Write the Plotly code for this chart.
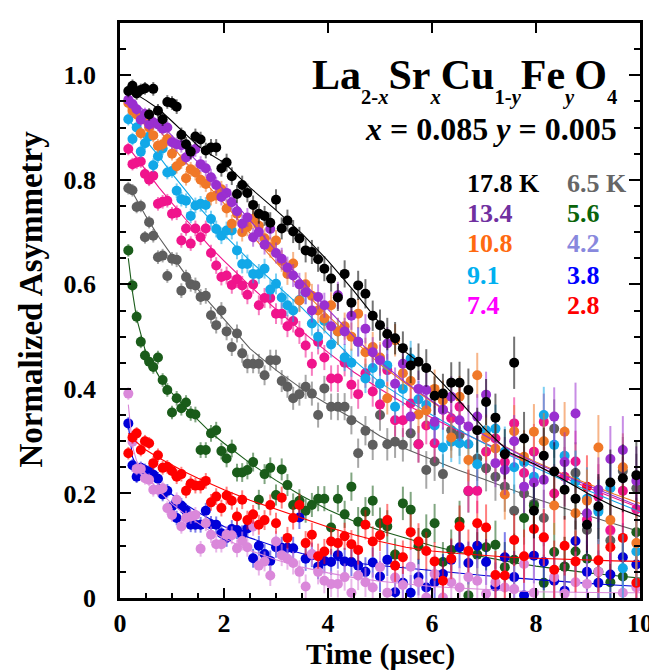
import plotly.graph_objects as go

# ---------------- data ----------------
time_us = [0.16, 0.24, 0.32, 0.40, 0.48, 0.56, 0.64, 0.73, 0.82, 0.91,
           1.00, 1.09, 1.18, 1.27, 1.36, 1.45, 1.55, 1.65, 1.75, 1.85,
           1.95, 2.05, 2.15, 2.25, 2.35, 2.45, 2.56, 2.67, 2.78, 2.89,
           3.00, 3.11, 3.22, 3.33, 3.45, 3.57, 3.69, 3.81, 3.93, 4.06,
           4.19, 4.32, 4.45, 4.58, 4.72, 4.86, 5.00, 5.14, 5.29, 5.44,
           5.59, 5.74, 5.89, 6.05, 6.21, 6.37, 6.53, 6.70, 6.87, 7.04,
           7.22, 7.40, 7.58, 7.77, 7.96, 8.15, 8.35, 8.55, 8.76, 8.98,
           9.20, 9.43, 9.67, 9.93]

err = [0.012, 0.012, 0.012, 0.012, 0.012, 0.012, 0.013, 0.013, 0.013, 0.013,
       0.013, 0.014, 0.014, 0.014, 0.014, 0.015, 0.015, 0.015, 0.016, 0.016,
       0.016, 0.017, 0.017, 0.017, 0.018, 0.018, 0.018, 0.019, 0.019, 0.020,
       0.020, 0.021, 0.021, 0.022, 0.022, 0.023, 0.023, 0.024, 0.024, 0.025,
       0.026, 0.026, 0.027, 0.028, 0.028, 0.029, 0.030, 0.031, 0.031, 0.032,
       0.034, 0.035, 0.036, 0.037, 0.038, 0.039, 0.040, 0.041, 0.043, 0.044,
       0.046, 0.048, 0.050, 0.051, 0.053, 0.054, 0.056, 0.057, 0.059, 0.060,
       0.062, 0.063, 0.065, 0.066]

a_17_8K = [0.970, 0.980, 0.965, 0.972, 0.975, 0.925, 0.974, 0.932, 0.916, 0.949,
           0.947, 0.940, 0.886, 0.868, 0.854, 0.883, 0.877, 0.856, 0.862, 0.862,
           0.822, 0.833, 0.807, 0.773, 0.790, 0.775, 0.752, 0.735, 0.731, 0.718,
           0.762, 0.707, 0.722, 0.701, 0.688, 0.665, 0.662, 0.648, 0.630, 0.611,
           0.575, 0.620, 0.565, 0.598, 0.582, 0.540, 0.522, 0.505, 0.497, 0.478,
           0.445, 0.452, 0.440, 0.387, 0.391, 0.412, 0.412, 0.398, 0.321, 0.375,
           0.345, 0.275, 0.450, 0.305, 0.167, 0.272, 0.242, 0.207, 0.190, 0.140,
           0.175, 0.221, 0.229, 0.235]

a_13_4K = [0.953, 0.945, 0.935, 0.915, 0.926, 0.906, 0.910, 0.906, 0.898, 0.900,
           0.872, 0.868, 0.866, 0.843, 0.852, 0.859, 0.830, 0.822, 0.805, 0.790,
           0.767, 0.775, 0.757, 0.740, 0.716, 0.728, 0.690, 0.700, 0.676, 0.706,
           0.660, 0.649, 0.632, 0.617, 0.600, 0.585, 0.550, 0.576, 0.560, 0.520,
           0.579, 0.510, 0.540, 0.490, 0.515, 0.470, 0.455, 0.487, 0.410, 0.448,
           0.347, 0.400, 0.398, 0.337, 0.360, 0.385, 0.340, 0.328, 0.347, 0.389,
           0.258, 0.245, 0.300, 0.213, 0.221, 0.226, 0.347, 0.260, 0.353, 0.162,
           0.207, 0.266, 0.283, 0.224]

a_10_8K = [0.947, 0.932, 0.925, 0.889, 0.915, 0.900, 0.885, 0.865, 0.868, 0.878,
           0.850, 0.826, 0.835, 0.803, 0.820, 0.814, 0.800, 0.792, 0.767, 0.770,
           0.782, 0.745, 0.716, 0.735, 0.700, 0.710, 0.725, 0.712, 0.688, 0.671,
           0.684, 0.645, 0.620, 0.640, 0.569, 0.600, 0.578, 0.550, 0.535, 0.560,
           0.510, 0.520, 0.500, 0.544, 0.470, 0.480, 0.460, 0.382, 0.493, 0.430,
           0.415, 0.351, 0.359, 0.400, 0.378, 0.307, 0.385, 0.264, 0.426, 0.307,
           0.286, 0.198, 0.319, 0.270, 0.318, 0.300, 0.177, 0.318, 0.162, 0.186,
           0.288, 0.149, 0.250, 0.105]

a_9_1K = [0.916, 0.878, 0.900, 0.854, 0.870, 0.883, 0.828, 0.845, 0.860, 0.814,
          0.817, 0.779, 0.763, 0.760, 0.731, 0.751, 0.754, 0.752, 0.725, 0.706,
          0.693, 0.703, 0.703, 0.665, 0.639, 0.639, 0.620, 0.620, 0.630, 0.590,
          0.601, 0.575, 0.560, 0.550, 0.570, 0.585, 0.525, 0.500, 0.530, 0.485,
          0.510, 0.460, 0.450, 0.490, 0.420, 0.440, 0.410, 0.445, 0.366, 0.400,
          0.458, 0.380, 0.369, 0.330, 0.288, 0.299, 0.296, 0.294, 0.256, 0.321,
          0.324, 0.280, 0.250, 0.260, 0.232, 0.350, 0.293, 0.272, 0.223, 0.190,
          0.165, 0.210, 0.057, 0.089]

a_7_4K = [0.859, 0.830, 0.833, 0.835, 0.811, 0.800, 0.808, 0.754, 0.758, 0.760,
          0.735, 0.737, 0.684, 0.707, 0.678, 0.707, 0.690, 0.707, 0.660, 0.636,
          0.614, 0.617, 0.599, 0.610, 0.598, 0.580, 0.600, 0.560, 0.574, 0.574,
          0.544, 0.544, 0.520, 0.530, 0.508, 0.483, 0.448, 0.490, 0.460, 0.420,
          0.420, 0.450, 0.408, 0.390, 0.430, 0.395, 0.370, 0.436, 0.340, 0.340,
          0.372, 0.294, 0.330, 0.296, 0.360, 0.344, 0.366, 0.205, 0.205, 0.280,
          0.305, 0.260, 0.334, 0.239, 0.280, 0.337, 0.200, 0.232, 0.261, 0.150,
          0.194, 0.130, 0.205, 0.170]

a_6_5K = [0.784, 0.780, 0.748, 0.750, 0.690, 0.719, 0.693, 0.652, 0.655, 0.616,
          0.649, 0.647, 0.588, 0.614, 0.600, 0.598, 0.576, 0.578, 0.541, 0.522,
          0.550, 0.510, 0.480, 0.506, 0.468, 0.448, 0.448, 0.448, 0.426, 0.455,
          0.455, 0.415, 0.404, 0.382, 0.390, 0.404, 0.391, 0.350, 0.401, 0.366,
          0.366, 0.366, 0.340, 0.277, 0.320, 0.293, 0.350, 0.294, 0.299, 0.293,
          0.315, 0.294, 0.245, 0.261, 0.237, 0.321, 0.312, 0.204, 0.267, 0.248,
          0.232, 0.213, 0.167, 0.200, 0.180, 0.153, 0.324, 0.060, 0.239, 0.130,
          0.170, 0.110, 0.243, 0.210]

a_5_6K = [0.665, 0.598, 0.538, 0.490, 0.464, 0.452, 0.442, 0.460, 0.417, 0.398,
          0.355, 0.382, 0.363, 0.374, 0.353, 0.351, 0.283, 0.283, 0.315, 0.321,
          0.281, 0.267, 0.286, 0.240, 0.240, 0.245, 0.260, 0.188, 0.237, 0.249,
          0.197, 0.246, 0.216, 0.178, 0.186, 0.167, 0.178, 0.190, 0.190, 0.135,
          0.190, 0.160, 0.213, 0.146, 0.165, 0.186, 0.143, 0.137, 0.083, 0.181,
          0.169, 0.099, 0.124, 0.143, 0.069, 0.092, 0.146, 0.005, 0.083, 0.097,
          0.102, 0.059, 0.073, 0.153, 0.177, 0.029, 0.088, 0.060, 0.089, 0.075,
          0.050, 0.030, 0.041, 0.126]

a_4_2K = [0.391, 0.299, 0.247, 0.247, 0.229, 0.226, 0.207, 0.207, 0.210, 0.172,
          0.159, 0.188, 0.137, 0.153, 0.156, 0.159, 0.094, 0.143, 0.121, 0.103,
          0.103, 0.121, 0.120, 0.095, 0.109, 0.097, 0.137, 0.062, 0.070, 0.043,
          0.108, 0.082, 0.075, 0.067, 0.050, 0.022, 0.084, 0.050, 0.033, 0.027,
          0.027, 0.040, 0.010, 0.043, 0.030, 0.020, 0.059, 0.010, 0.039, 0.025,
          0.060, 0.030, 0.001, 0.046, 0.001, 0.030, 0.020, 0.040, 0.033, 0.008,
          0.030, 0.020, 0.017, 0.065, 0.010, 0.115, 0.040, 0.008, 0.030, 0.027,
          0.050, 0.128, 0.010, 0.020]

a_3_8K = [0.334, 0.254, 0.232, 0.249, 0.245, 0.242, 0.236, 0.228, 0.198, 0.205,
          0.175, 0.153, 0.177, 0.167, 0.140, 0.140, 0.140, 0.167, 0.141, 0.140,
          0.124, 0.115, 0.132, 0.130, 0.121, 0.133, 0.076, 0.100, 0.084, 0.071,
          0.097, 0.096, 0.096, 0.095, 0.154, 0.075, 0.082, 0.060, 0.071, 0.069,
          0.082, 0.070, 0.069, 0.062, 0.050, 0.068, 0.041, 0.073, 0.011, 0.029,
          0.010, 0.040, 0.020, 0.030, 0.046, 0.073, 0.097, 0.067, 0.100, 0.069,
          0.022, 0.078, 0.040, 0.005, 0.081, 0.069, 0.033, 0.014, 0.109, 0.050,
          0.029, 0.045, 0.078, 0.064]

a_2_8K = [0.277, 0.307, 0.315, 0.283, 0.300, 0.296, 0.258, 0.273, 0.249, 0.251,
          0.243, 0.232, 0.237, 0.205, 0.219, 0.215, 0.215, 0.224, 0.183, 0.194,
          0.172, 0.196, 0.186, 0.156, 0.188, 0.149, 0.160, 0.140, 0.149, 0.178,
          0.143, 0.192, 0.115, 0.153, 0.178, 0.105, 0.121, 0.080, 0.089, 0.108,
          0.105, 0.118, 0.103, 0.092, 0.140, 0.108, 0.120, 0.149, 0.062, 0.078,
          0.126, 0.108, 0.090, 0.070, 0.033, 0.075, 0.137, 0.090, 0.143, 0.135,
          0.044, 0.043, 0.111, 0.080, 0.132, 0.116, 0.054, 0.100, 0.070, 0.213,
          0.072, 0.097, 0.115, 0.029]

# fitted curves
fit_time = [0.16, 0.24, 0.32, 0.5, 0.75, 1.0, 1.25, 1.5, 1.75, 2.0, 2.5, 3.0, 3.5,
            4.0, 4.5, 5.0, 5.5, 6.0, 6.5, 7.0, 7.5, 8.0, 8.5, 9.0, 9.5, 10.0]
fit_17_8K = [0.972, 0.968, 0.963, 0.952, 0.935, 0.912, 0.888, 0.865, 0.848, 0.833, 0.785, 0.742, 0.697,
             0.645, 0.587, 0.525, 0.470, 0.432, 0.380, 0.325, 0.278, 0.255, 0.228, 0.200, 0.175, 0.156]
fit_13_4K = [0.957, 0.951, 0.944, 0.930, 0.910, 0.885, 0.860, 0.835, 0.808, 0.780, 0.722, 0.665, 0.607,
             0.552, 0.500, 0.452, 0.412, 0.377, 0.343, 0.312, 0.284, 0.258, 0.236, 0.215, 0.195, 0.175]
fit_10_8K = [0.952, 0.946, 0.939, 0.920, 0.895, 0.865, 0.835, 0.810, 0.783, 0.755, 0.698, 0.642, 0.590,
             0.540, 0.493, 0.447, 0.410, 0.375, 0.343, 0.312, 0.285, 0.260, 0.238, 0.218, 0.199, 0.181]
fit_9_1K = [0.915, 0.907, 0.897, 0.875, 0.845, 0.812, 0.780, 0.750, 0.722, 0.695, 0.645, 0.600, 0.555,
            0.505, 0.455, 0.412, 0.380, 0.350, 0.322, 0.296, 0.272, 0.249, 0.226, 0.205, 0.185, 0.165]
fit_7_4K = [0.862, 0.852, 0.842, 0.818, 0.785, 0.755, 0.726, 0.698, 0.670, 0.645, 0.597, 0.552, 0.510,
            0.470, 0.432, 0.400, 0.370, 0.345, 0.320, 0.297, 0.275, 0.253, 0.232, 0.211, 0.191, 0.172]
fit_6_5K = [0.790, 0.775, 0.762, 0.730, 0.690, 0.655, 0.620, 0.590, 0.562, 0.535, 0.477, 0.436, 0.400,
            0.370, 0.342, 0.310, 0.285, 0.265, 0.245, 0.227, 0.208, 0.190, 0.173, 0.157, 0.142, 0.127]
fit_5_6K = [0.650, 0.585, 0.535, 0.468, 0.424, 0.392, 0.365, 0.340, 0.316, 0.296, 0.258, 0.225, 0.195,
            0.169, 0.147, 0.129, 0.114, 0.100, 0.088, 0.078, 0.069, 0.061, 0.054, 0.048, 0.043, 0.038]
fit_4_2K = [0.370, 0.290, 0.262, 0.235, 0.205, 0.180, 0.160, 0.143, 0.127, 0.114, 0.091, 0.073, 0.059,
            0.048, 0.039, 0.032, 0.027, 0.022, 0.019, 0.016, 0.014, 0.012, 0.011, 0.010, 0.010, 0.010]
fit_3_8K = [0.330, 0.270, 0.252, 0.240, 0.218, 0.198, 0.180, 0.164, 0.150, 0.137, 0.115, 0.098, 0.085,
            0.075, 0.067, 0.062, 0.058, 0.053, 0.048, 0.043, 0.039, 0.035, 0.031, 0.028, 0.025, 0.022]
fit_2_8K = [0.315, 0.305, 0.298, 0.283, 0.268, 0.254, 0.241, 0.229, 0.218, 0.207, 0.187, 0.170, 0.152,
            0.136, 0.121, 0.108, 0.097, 0.090, 0.085, 0.081, 0.078, 0.076, 0.074, 0.072, 0.071, 0.070]

x_ticks = [0, 2, 4, 6, 8, 10]
y_ticks = [0, 0.2, 0.4, 0.6, 0.8, 1.0]
y_ticktext = ["0", "0.2", "0.4", "0.6", "0.8", "1.0"]

# (label, data, fit, marker colour, errorbar rgba, legend-text colour, column, row)
series = [
    ("6.5 K", a_6_5K, fit_6_5K, "#5e5e5e", "rgba(95,95,95,0.55)", "#666666", 1, 0),
    ("5.6", a_5_6K, fit_5_6K, "#1a5c1a", "rgba(26,92,26,0.55)", "#0a640a", 1, 1),
    ("3.8", a_3_8K, fit_3_8K, "#0000d8", "rgba(0,0,216,0.5)", "#0000ff", 1, 3),
    ("4.2", a_4_2K, fit_4_2K, "#da88da", "rgba(218,136,218,0.6)", "#8888dd", 1, 2),
    ("2.8", a_2_8K, fit_2_8K, "#ff0000", "rgba(255,0,0,0.5)", "#ff0000", 1, 4),
    ("7.4", a_7_4K, fit_7_4K, "#f0148c", "rgba(240,20,140,0.55)", "#ff00ff", 0, 4),
    ("9.1", a_9_1K, fit_9_1K, "#12a8e8", "rgba(18,168,232,0.55)", "#00b0f0", 0, 3),
    ("10.8", a_10_8K, fit_10_8K, "#f07828", "rgba(240,120,40,0.55)", "#ff6a10", 0, 2),
    ("13.4", a_13_4K, fit_13_4K, "#9a2fd0", "rgba(154,47,208,0.55)", "#7030a0", 0, 1),
    ("17.8 K", a_17_8K, fit_17_8K, "#000000", "rgba(0,0,0,0.55)", "#000000", 0, 0),
]

FONT = "Liberation Serif"

fig = go.Figure()
for label, vals, fit, col, ecol, tcol, c, r in series:
    fig.add_trace(go.Scatter(
        x=time_us, y=vals, mode="markers",
        marker=dict(size=10, color=col, line=dict(width=0)),
        error_y=dict(type="data", array=err, visible=True, color=ecol,
                     thickness=2, width=0),
        showlegend=False, hoverinfo="skip"))
    fig.add_trace(go.Scatter(
        x=fit_time, y=fit, mode="lines",
        line=dict(color=col, width=1.1),
        showlegend=False, hoverinfo="skip"))

# dummy trace to show top / right tick axes
fig.add_trace(go.Scatter(x=[5], y=[0.5], xaxis="x2", yaxis="y2", mode="markers",
                         marker=dict(opacity=0), showlegend=False, hoverinfo="skip"))

tickfont = dict(family=FONT, size=26, color="black", weight="bold")

fig.update_layout(
    width=657, height=670,
    margin=dict(l=112, r=16, t=14, b=80),
    paper_bgcolor="white", plot_bgcolor="white",
    showlegend=False,
    xaxis=dict(range=[0, 10], tickvals=x_ticks, ticks="inside", ticklen=10,
               tickwidth=2, tickcolor="black", showline=True, linecolor="black",
               linewidth=2.5, mirror=True, showgrid=False, zeroline=False,
               tickfont=tickfont, ticklabelstandoff=0,
               minor=dict(dtick=0.5, ticks="inside", ticklen=5, tickwidth=2,
                          tickcolor="black", showgrid=False)),
    yaxis=dict(range=[0, 1.1], tickvals=y_ticks, ticktext=y_ticktext,
               ticks="inside", ticklen=11, tickwidth=2, tickcolor="black",
               showline=True, linecolor="black", linewidth=2.5, mirror=True,
               showgrid=False, zeroline=False, tickfont=tickfont,
               ticklabelstandoff=16,
               minor=dict(dtick=0.05, ticks="inside", ticklen=6, tickwidth=2,
                          tickcolor="black", showgrid=False)),
    xaxis2=dict(range=[0, 10], overlaying="x", side="top", anchor="y",
                tickvals=x_ticks, ticks="inside", ticklen=10, tickwidth=2,
                tickcolor="black", showticklabels=False, showline=False,
                showgrid=False, zeroline=False),
    yaxis2=dict(range=[0, 1.1], overlaying="y", side="right", anchor="x",
                tickvals=y_ticks, ticks="inside", ticklen=11, tickwidth=2,
                tickcolor="black", showticklabels=False, showline=False,
                showgrid=False, zeroline=False,
                minor=dict(dtick=0.05, ticks="inside", ticklen=6, tickwidth=2,
                           tickcolor="black", showgrid=False)),
)

ann = []
ann.append(dict(text="Normalized Asymmetry", textangle=-90, xref="paper", yref="paper",
                x=-0.172, y=0.52, xanchor="center", yanchor="middle", showarrow=False,
                font=dict(family=FONT, size=33, color="black", weight="bold")))
ann.append(dict(text="Time (µsec)", xref="paper", yref="paper",
                x=0.5, y=-0.1285, xanchor="center", yanchor="bottom", showarrow=False,
                borderpad=0,
                font=dict(family=FONT, size=30, color="black", weight="bold")))
ann.append(dict(text="La<sub><sub>2-<i>x</i></sub></sub>Sr<sub><sub><i>x</i></sub></sub>"
                     "Cu<sub><sub>1-<i>y</i></sub></sub>Fe<sub><sub><i>y</i></sub></sub>"
                     "O<sub><sub>4</sub></sub>",
                xref="paper", yref="paper", x=0.96, y=0.90, xanchor="right",
                yanchor="middle", showarrow=False,
                font=dict(family=FONT, size=42, color="black", weight="bold")))
ann.append(dict(text="<i>x</i> = 0.085 <i>y</i> = 0.005",
                xref="paper", yref="paper", x=0.96, y=0.815, xanchor="right",
                yanchor="middle", showarrow=False,
                font=dict(family=FONT, size=32, color="black", weight="bold")))
col_x = [0.6635, 0.856]
row_y = [0.721, 0.668, 0.616, 0.561, 0.509]
for label, vals, fit, col, ecol, tcol, c, r in series:
    ann.append(dict(text=label, xref="paper", yref="paper", x=col_x[c], y=row_y[r],
                    xanchor="left", yanchor="middle", showarrow=False,
                    font=dict(family=FONT, size=26, color=tcol, weight="bold")))
fig.update_layout(annotations=ann)

fig.write_html("out.html")
